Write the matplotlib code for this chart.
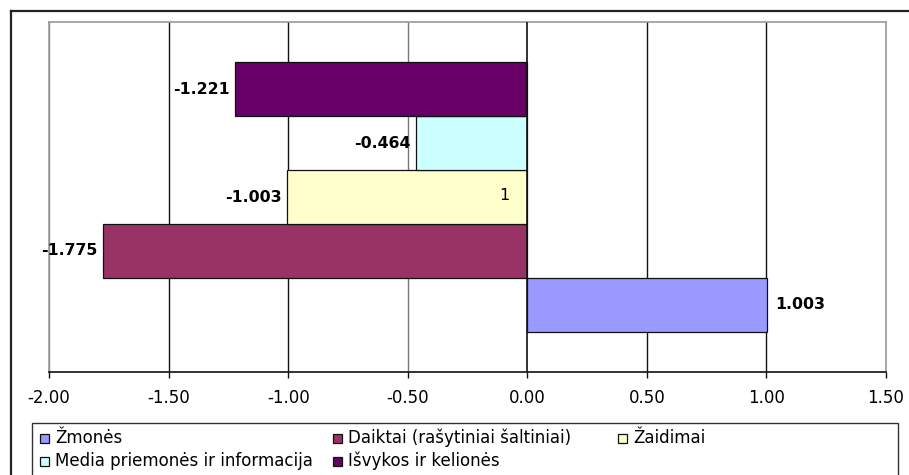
import matplotlib
matplotlib.use("Agg")
import matplotlib.pyplot as plt
from matplotlib.patches import Rectangle
from matplotlib.lines import Line2D

plt.rcParams['font.family'] = ['DejaVu Sans']

# ---- data ----
series_names = ["Žmonės", "Daiktai (rašytiniai šaltiniai)", "Žaidimai",
                "Media priemonės ir informacija", "Išvykos ir kelionės"]
series_values = [1.003, -1.775, -1.003, -0.464, -1.221]
series_colors = ["#9999FF", "#993366", "#FFFFCC", "#CCFFFF", "#660066"]
value_labels = ["1.003", "-1.775", "-1.003", "-0.464", "-1.221"]
categories = ["1"]
x_ticks = [-2.0, -1.5, -1.0, -0.5, 0.0, 0.5, 1.0, 1.5]
x_tick_labels = ["-2.00", "-1.50", "-1.00", "-0.50", "0.00", "0.50", "1.00", "1.50"]

W, H = 909, 475
fig = plt.figure(figsize=(W / 100, H / 100), dpi=100)

def fx(px):
    return px / W

def fy(py):
    return 1 - py / H

# outer chart frame (extends beyond the image on right and bottom)
fig.add_artist(Line2D([fx(11), fx(915)], [fy(11), fy(11)], color="#222222", lw=1.6,
                      transform=fig.transFigure))
fig.add_artist(Line2D([fx(11), fx(11)], [fy(11), fy(480)], color="#222222", lw=1.6,
                      transform=fig.transFigure))

ax = fig.add_axes([fx(49), fy(372), fx(886) - fx(49), fy(22) - fy(372)])

positions = list(range(len(series_values)))
ax.set_xlim(-2.0, 1.5)
ax.set_ylim(-1.25, len(series_values) - 1 + 1.25)

# gridlines
grid_colors = {-2.0: "#888888", -1.5: "#111111", -1.0: "#111111", -0.5: "#777777",
               0.5: "#111111", 1.0: "#111111", 1.5: "#888888"}
for xv in x_ticks:
    if xv == 0.0:
        continue
    ax.axvline(xv, color=grid_colors[xv], lw=1.0, zorder=1)

bars = ax.barh(positions, series_values, height=1.0, color=series_colors,
               edgecolor="#111111", linewidth=0.9, zorder=3)

# zero axis line
ax.axvline(0, color="#111111", lw=1.2, zorder=4)

for pos, val, lab in zip(positions, series_values, value_labels):
    if val < 0:
        ax.annotate(lab, (val, pos), xytext=(-4, 0), textcoords="offset points",
                    ha="right", va="center", fontsize=11.3, fontweight="bold", zorder=5)
    else:
        ax.annotate(lab, (val, pos), xytext=(6, 0), textcoords="offset points",
                    ha="left", va="center", fontsize=11.3, fontweight="bold", zorder=5)

# category label on the value axis
mid = (positions[0] + positions[-1]) / 2
ax.annotate(categories[0], (0, mid), xytext=(-13, 1), textcoords="offset points",
            ha="right", va="center", fontsize=11.5, zorder=5)

ax.set_yticks([])
ax.set_xticks(x_ticks)
ax.set_xticklabels(x_tick_labels, fontsize=12)
ax.tick_params(axis="x", direction="out", length=4, width=1, color="#111111", pad=8)

for side in ["top", "left", "right"]:
    ax.spines[side].set_color("#999999")
    ax.spines[side].set_linewidth(1.2)
ax.spines["bottom"].set_color("#111111")
ax.spines["bottom"].set_linewidth(1.2)

# legend (manual, Excel-style equal columns)
fig.add_artist(Rectangle((fx(32), fy(480)), fx(898) - fx(32), fy(423) - fy(480),
                         transform=fig.transFigure, facecolor="white",
                         edgecolor="#333333", lw=1.0))
col_x = [40, 333, 618]
row_y = [438, 461]
order_rows = [[0, 1, 2], [3, 4]]
for r, idxs in enumerate(order_rows):
    for c, i in enumerate(idxs):
        x0 = col_x[c]
        y0 = row_y[r]
        fig.add_artist(Rectangle((fx(x0), fy(y0 + 4.5)), fx(9), 9 / H,
                                 transform=fig.transFigure,
                                 facecolor=series_colors[i], edgecolor="#111111", lw=0.9))
        fig.text(fx(x0 + 15), fy(y0), series_names[i], ha="left", va="center",
                 fontsize=12)

fig.savefig("out.png", dpi=100)
